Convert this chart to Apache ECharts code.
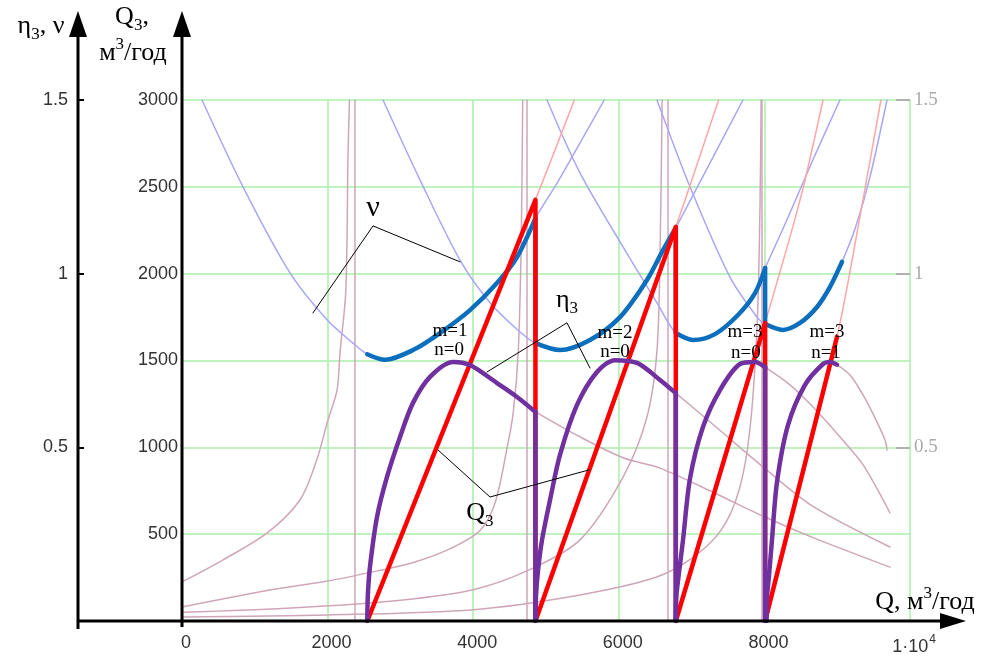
<!DOCTYPE html>
<html><head><meta charset="utf-8">
<script src="https://cdn.jsdelivr.net/npm/echarts@6/dist/echarts.min.js"></script>
<style>html,body{margin:0;padding:0;background:#fff}#c{width:983px;height:659px}</style>
</head><body><div id="c"></div>
<script>
// ---------------- DATA ----------------
// Q (м3/год) on x; Q3 (м3/год) on left axis 0..3000; η3, ν on axis 0..1.5
const xTicks = [0, 2000, 4000, 6000, 8000, 10000];
const q3Ticks = [500, 1000, 1500, 2000, 2500, 3000];
const etaTicks = [0.5, 1, 1.5];

// thick red Q3 sawtooth (optimal mode switching)
const q3Thick = [[2545,0],[4855,2425],[4855,0],[6783,2270],[6783,0],[8010,1717],[8010,0],[8030,0],[8997,1636]];

// thick purple η3 segments
const eta3Seg1 = [[2545,0],[2553,0.075],[2582,0.156],[2679,0.30],[2816,0.415],[2995,0.53],[3173,0.628],[3407,0.703],[3723,0.746],[3956,0.737],[4327,0.685],[4602,0.645],[4855,0.602]];
const eta3Seg2 = [[4855,0],[4862,0.07],[4890,0.145],[4945,0.233],[5055,0.348],[5192,0.478],[5426,0.622],[5700,0.717],[5948,0.751],[6250,0.743],[6566,0.694],[6783,0.656]];
const eta3Seg3 = [[6783,0],[6790,0.07],[6827,0.14],[6882,0.233],[6978,0.41],[7157,0.559],[7390,0.665],[7665,0.740],[7871,0.746],[8010,0.731]];
const eta3Seg4 = [[8030,0],[8036,0.07],[8063,0.13],[8104,0.233],[8173,0.40],[8324,0.564],[8558,0.680],[8805,0.740],[8901,0.746],[8997,0.738]];

// thick blue ν segments
const nuSeg1 = [[2545,0.768],[2788,0.752],[3173,0.780],[3544,0.829],[3956,0.895],[4327,0.973],[4602,1.048],[4855,1.16]];
const nuSeg2 = [[4855,0.800],[5192,0.780],[5604,0.809],[6016,0.875],[6387,0.982],[6607,1.068],[6783,1.132]];
const nuSeg3 = [[6783,0.829],[7019,0.809],[7321,0.826],[7637,0.881],[7871,0.944],[8010,1.016]];
const nuSeg4 = [[8010,0.855],[8255,0.838],[8489,0.858],[8723,0.904],[8901,0.962],[9066,1.034]];

// faint full ν curves of each mode
const nuFaint1 = [[275,1.5],[838,1.25],[1484,1.002],[1992,0.867],[2349,0.800],[2545,0.768],[2788,0.752],[3173,0.780],[3544,0.829],[3956,0.895],[4327,0.973],[4602,1.048],[4855,1.16],[5150,1.26],[5450,1.37],[5800,1.5]];
const nuFaint2 = [[2761,1.5],[3269,1.27],[3819,1.039],[4231,0.916],[4600,0.84],[4855,0.80],[5192,0.780],[5604,0.809],[6016,0.875],[6387,0.982],[6607,1.068],[6783,1.132],[7253,1.319],[7706,1.5]];
const nuFaint3 = [[5014,1.5],[5467,1.29],[6058,1.077],[6525,0.916],[6783,0.829],[7019,0.809],[7321,0.826],[7637,0.881],[7871,0.944],[8010,1.016],[8300,1.15],[8650,1.32],[9038,1.5]];
const nuFaint4 = [[6525,1.5],[6978,1.25],[7527,0.990],[7898,0.875],[8010,0.855],[8255,0.838],[8489,0.858],[8723,0.904],[8901,0.962],[9066,1.034],[9250,1.132],[9450,1.278],[9684,1.5]];

// faint full Q3 lines of each mode
const q3Faint1 = [[2545,0],[4855,2425],[5390,3000]];
const q3Faint2 = [[4855,0],[6783,2270],[7370,3000]];
const q3Faint3 = [[6783,0],[8010,1717],[8490,2425],[8805,3000]];
const q3Faint4 = [[8030,0],[8997,1636],[9354,2425],[9600,3000]];

// faint η3 tails of each mode after switching
const eta3Faint1 = [[4855,0.602],[5467,0.53],[6058,0.47],[6566,0.44],[7300,0.37],[8000,0.30],[8668,0.24],[9725,0.155]];
const eta3Faint2 = [[6783,0.656],[7300,0.565],[8000,0.44],[8668,0.33],[9725,0.213]];
const eta3Faint3 = [[8010,0.731],[8352,0.680],[8668,0.616],[9038,0.530],[9354,0.45],[9725,0.311]];
const eta3Faint4 = [[8997,0.738],[9176,0.708],[9354,0.651],[9519,0.585],[9657,0.521],[9684,0.492]];

// faint rising auxiliary curves (Q3 scale) and their vertical asymptotes
const auxRise1 = [[0,225],[560,351],[1170,507],[1620,697],[1850,927],[2000,1150],[2130,1331],[2170,1544],[2250,1900],[2280,2670],[2300,3000]];
const auxRise2 = [[0,80],[1170,175],[2000,230],[2700,290],[3200,340],[3700,420],[4090,520],[4300,680],[4460,985],[4550,1200],[4620,1560],[4660,2200],[4680,3000]];
const auxRise3 = [[0,50],[1500,75],[3000,120],[4000,180],[4800,300],[5467,467],[6058,829],[6387,1175],[6525,1561],[6570,2200],[6595,3000]];
const auxRise4 = [[0,23],[2000,35],[4000,65],[5467,150],[6500,250],[7000,360],[7400,520],[7650,750],[7800,1100],[7900,1700],[7940,2400],[7955,3000]];
const auxVertical = [2376, 4739, 6676, 7967];

// annotations [Q, Q3]
const leaderNu = [[1799,1774],[2624,2275],[3819,2068]];
const leaderEta = [[4190,1434],[5288,1717],[5604,1457]];
const leaderQ3 = [[3516,985],[4231,714],[5591,870]];
const modeLabels = [
  ['m=1',3681,1671],['n=0',3668,1561],
  ['m=2',5948,1659],['n=0',5948,1550],
  ['m=3',7734,1665],['n=0',7747,1544],
  ['m=3',8860,1665],['n=1',8846,1544]
];
const nuLabelPos = [2624, 2379];
const etaLabelPos = [5288, 1838];
const q3LabelPos = [4093, 611];

// ---------------- CHART ----------------
const chart = echarts.init(document.getElementById('c'), null, {renderer:'canvas'});
const gridColor = '#a8eea8';
const tickColor = '#333333';
const C_NU_F = '#a7a7f5', C_Q3_F = '#ffa6a6', C_PINK = '#cfa6b9';
const C_NU = '#0b6fbe', C_Q3 = '#ff0000', C_ETA = '#7030a0';

function L(data, color, width, yi, smooth, z) {
  return {type:'line', data, xAxisIndex:0, yAxisIndex:yi, showSymbol:false, symbol:'none',
    smooth: smooth ? 0.3 : false, lineStyle:{color, width, cap:'round', join:'round'},
    z, silent:true, animation:false};
}
const series = [];
[auxRise1, auxRise2, auxRise3, auxRise4].forEach(d => series.push(L(d, C_PINK, 1.5, 0, true, 2)));
auxVertical.forEach(q => series.push(L([[q,0],[q,3000]], C_PINK, 1.5, 0, false, 2)));
[eta3Faint1, eta3Faint2, eta3Faint3, eta3Faint4].forEach(d => series.push(L(d, C_PINK, 1.5, 1, true, 2)));
[nuFaint1, nuFaint2, nuFaint3, nuFaint4].forEach(d => series.push(L(d, C_NU_F, 1.5, 1, true, 3)));
[q3Faint1, q3Faint2, q3Faint3, q3Faint4].forEach(d => series.push(L(d, C_Q3_F, 1.5, 0, true, 3)));
const nuSegs = [nuSeg1, nuSeg2, nuSeg3, nuSeg4];
nuSegs.forEach(d => series.push(L(d, C_NU, 4.5, 1, true, 5)));
for (let i = 0; i < 3; i++) series.push(L([nuSegs[i][nuSegs[i].length-1], nuSegs[i+1][0]], C_NU, 4.5, 1, false, 5));
series.push(L(q3Thick, C_Q3, 4.5, 0, false, 6));
const etaSegs = [eta3Seg1, eta3Seg2, eta3Seg3, eta3Seg4];
etaSegs.forEach(d => series.push(L(d, C_ETA, 4.5, 1, true, 7)));
for (let i = 0; i < 3; i++) { const e = etaSegs[i][etaSegs[i].length-1]; series.push(L([e, [e[0], 0]], C_ETA, 4.5, 1, false, 7)); }
[leaderNu, leaderEta, leaderQ3].forEach(d => series.push(L(d, '#000', 1, 0, false, 8)));

const option = {
  animation:false,
  backgroundColor:'#ffffff',
  grid:{left:182, right:73, top:100, bottom:38},
  xAxis:{type:'value', min:0, max:10000, interval:2000,
    axisLine:{show:false}, axisTick:{show:false},
    splitLine:{show:true, lineStyle:{color:gridColor, width:1.5}},
    axisLabel:{margin:13, color:tickColor, fontSize:18, fontFamily:'Liberation Sans', padding:[0,0,0,8],
      formatter: v => v === 10000 ? '{a|1·10}{p|4}' : String(v),
      rich:{a:{fontSize:18, color:tickColor, fontFamily:'Liberation Sans', verticalAlign:'bottom'},
            p:{fontSize:12, color:tickColor, fontFamily:'Liberation Sans', verticalAlign:'bottom', padding:[0,0,10,1]}}}},
  yAxis:[
    {type:'value', min:0, max:3000, interval:500, position:'left',
      axisLine:{show:false}, axisTick:{show:false},
      splitLine:{show:true, lineStyle:{color:gridColor, width:1.5}},
      axisLabel:{showMinLabel:false, margin:4, color:tickColor, fontSize:18, fontFamily:'Liberation Sans', formatter: v => String(v)}},
    {type:'value', min:0, max:1.5, interval:0.5, position:'left', offset:104,
      axisLine:{show:false}, axisTick:{show:true, inside:true, length:6, lineStyle:{color:'#000', width:2}},
      splitLine:{show:false},
      axisLabel:{showMinLabel:false, margin:10, color:tickColor, fontSize:18, fontFamily:'Liberation Sans', formatter: v => String(v)}},
    {type:'value', min:0, max:1.5, interval:0.5, position:'right',
      axisLine:{show:false}, axisTick:{show:true, inside:true, length:14, lineStyle:{color:'#b0b0b0', width:2}},
      splitLine:{show:false},
      axisLabel:{showMinLabel:false, margin:4, color:'#aaaaaa', fontSize:19, fontFamily:'Liberation Serif', formatter: v => String(v)}}
  ],
  series
};
chart.setOption(option);

// ---------------- axes decorations & annotations ----------------
const P = (q, v) => chart.convertToPixel({xAxisIndex:0, yAxisIndex:0}, [q, v]);
const o = P(0, 0);
const etaX = o[0] - 104, qX = o[0], axY = o[1];
const black = '#000';
const ser = 'Liberation Serif';
const rich = {
  e:{fontSize:26, fontFamily:ser, fill:black, color:black, verticalAlign:'bottom', padding:[0,0,4,0]},
  b:{fontSize:17, fontFamily:ser, fill:black, color:black, verticalAlign:'bottom'},
  n:{fontSize:26, fontFamily:ser, fill:black, color:black, verticalAlign:'bottom'},
  p:{fontSize:17, fontFamily:ser, fill:black, color:black, verticalAlign:'bottom', padding:[0,0,13,0]},
  v:{fontSize:30, fontFamily:ser, fill:black, color:black, verticalAlign:'bottom'},
  m:{fontSize:19, fontFamily:ser, fill:black, color:black}
};
function T(x, y, text, align) {
  return {type:'text', x, y, z:100, silent:true,
    style:{text, rich, align: align || 'center', verticalAlign:'middle', fill:black}};
}
const g = [];
g.push({type:'line', z:90, silent:true, shape:{x1:etaX, y1:axY+8, x2:etaX, y2:34}, style:{stroke:black, lineWidth:3}});
g.push({type:'line', z:90, silent:true, shape:{x1:qX, y1:axY+6, x2:qX, y2:34}, style:{stroke:black, lineWidth:3}});
g.push({type:'line', z:90, silent:true, shape:{x1:etaX-1, y1:axY, x2:944, y2:axY}, style:{stroke:black, lineWidth:3}});
g.push({type:'polygon', z:91, silent:true, shape:{points:[[etaX,11],[etaX-9,37],[etaX+9,37]]}, style:{fill:black}});
g.push({type:'polygon', z:91, silent:true, shape:{points:[[qX,11],[qX-9,37],[qX+9,37]]}, style:{fill:black}});
g.push({type:'polygon', z:91, silent:true, shape:{points:[[966,axY],[940,axY-8],[940,axY+8]]}, style:{fill:black}});
g.push(T(41, 28, '{e|η}{b|3}{e|, ν}'));
g.push(T(132, 19, '{e|Q}{b|3}{e|,}'));
g.push(T(133, 51, '{n|м}{p|3}{n|/год}'));
g.push(T(925, 600, '{n|Q, м}{p|3}{n|/год}'));
let p = P(nuLabelPos[0], nuLabelPos[1]); g.push(T(p[0], p[1], '{v|ν}'));
p = P(etaLabelPos[0], etaLabelPos[1]); g.push(T(p[0], p[1], '{e|η}{b|3}'));
p = P(q3LabelPos[0], q3LabelPos[1]); g.push(T(p[0], p[1], '{e|Q}{b|3}'));
modeLabels.forEach(m => { const q = P(m[1], m[2]); g.push(T(q[0], q[1], '{m|' + m[0] + '}')); });
chart.setOption({graphic: g});
</script>
</body></html>
